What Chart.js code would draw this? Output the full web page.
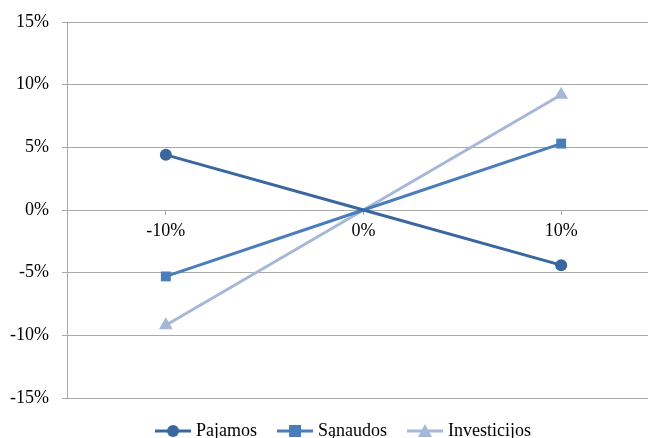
<!DOCTYPE html>
<html>
<head>
<meta charset="utf-8">
<script src="https://cdn.jsdelivr.net/npm/chart.js@4/dist/chart.umd.min.js"></script>
<style>
  html, body { margin: 0; padding: 0; background: #fff; overflow: hidden; }
  #wrap { width: 668px; height: 438px; }
</style>
</head>
<body>
<div id="wrap"><canvas id="chart" width="668" height="438"></canvas></div>
<script>
const categories = ["-10%", "0%", "10%"];
const pajamos = [4.4, 0, -4.4];
const sanaudos = [-5.3, 0, 5.3];
const investicijos = [-9.2, 0, 9.2];
const yTicks = [-15, -10, -5, 0, 5, 10, 15];

const FONT = "'Liberation Serif', 'Times New Roman', serif";
const GRID = "#a9a9a9";

// small canvas with line + marker, used as legend symbol
function legendIcon(color, style) {
  const c = document.createElement("canvas");
  c.width = 36; c.height = 16;
  const ctx = c.getContext("2d");
  ctx.strokeStyle = color; ctx.fillStyle = color; ctx.lineWidth = 3;
  ctx.beginPath(); ctx.moveTo(0, 8); ctx.lineTo(36, 8); ctx.stroke();
  ctx.beginPath();
  if (style === "circle") ctx.arc(18, 8, 6, 0, Math.PI * 2);
  else if (style === "rect") ctx.rect(12, 2, 12, 12);
  else { ctx.moveTo(18, 1); ctx.lineTo(25, 14); ctx.lineTo(11, 14); ctx.closePath(); }
  ctx.fill();
  return c;
}

const series = [
  { label: "Pajamos", data: pajamos, color: "#3b67a0", style: "circle", r: 6 },
  { label: "Sąnaudos", data: sanaudos, color: "#4a7ebb", style: "rect", r: 7 },
  { label: "Investicijos", data: investicijos, color: "#a6b7d8", style: "triangle", r: 8 },
];

// the legend sits a bit right of centre in the original
const legendShift = {
  id: "legendShift",
  afterLayout(chart) {
    chart.legend.left += 11;
    chart.legend.right += 11;
  },
};

new Chart(document.getElementById("chart"), {
  type: "line",
  data: {
    labels: categories,
    datasets: series.map(s => ({
      label: s.label,
      data: s.data,
      borderColor: s.color,
      backgroundColor: s.color,
      borderWidth: 3,
      pointStyle: s.style,
      // no marker on the middle (0%) point
      pointRadius: s.data.map(v => (v === 0 ? 0 : s.r)),
      pointHoverRadius: s.data.map(v => (v === 0 ? 0 : s.r)),
      pointBorderWidth: 0,
      tension: 0,
      _icon: legendIcon(s.color, s.style),
    })),
  },
  plugins: [legendShift],
  options: {
    responsive: false,
    animation: false,
    layout: { padding: { top: 21, right: 0, left: 0, bottom: -12 } },
    plugins: {
      tooltip: { enabled: false },
      legend: {
        position: "bottom",
        labels: {
          usePointStyle: true,
          pointStyleWidth: 28,
          padding: 24,
          color: "#000",
          font: { family: FONT, size: 18 },
          generateLabels: chart => chart.data.datasets.map((d, i) => ({
            text: d.label,
            pointStyle: d._icon,
            fillStyle: d.borderColor,
            strokeStyle: d.borderColor,
            lineWidth: 0,
            datasetIndex: i,
            hidden: false,
          })),
        },
      },
    },
    scales: {
      x: {
        type: "category",
        offset: true,
        position: { y: 0 },
        grid: { drawOnChartArea: false, drawTicks: true, tickLength: 5, color: GRID },
        border: { display: false },
        ticks: { color: "#000", padding: 5, font: { family: FONT, size: 18 }, maxRotation: 0 },
      },
      y: {
        min: -15, max: 15,
        afterBuildTicks: axis => { axis.ticks = yTicks.map(v => ({ value: v })); },
        afterFit: axis => { axis.width = 67; },
        grid: { color: GRID, tickLength: 5, drawTicks: true },
        border: { color: GRID },
        ticks: {
          color: "#000", padding: 13,
          font: { family: FONT, size: 18, lineHeight: 1 },
          callback: v => v + "%",
        },
      },
    },
  },
});
</script>
</body>
</html>
